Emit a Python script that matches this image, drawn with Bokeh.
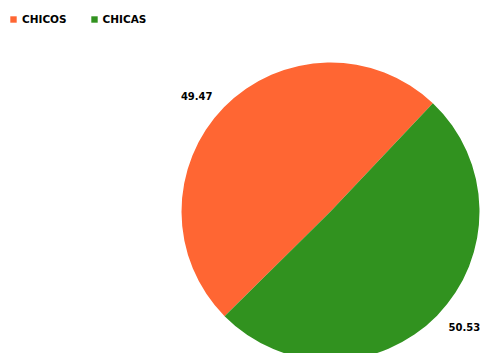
import numpy as np
from bokeh.plotting import figure
from bokeh.models import ColumnDataSource, Legend, LegendItem, Range1d
from bokeh.core.properties import value
from bokeh.embed import file_html
from bokeh.resources import INLINE

categories = ["CHICOS", "CHICAS"]
values = [49.47, 50.53]
labels = ["49.47", "50.53"]
colors = ["#FF6633", "#31921F"]

W, H = 481, 353
p = figure(width=W, height=H, output_backend="svg", toolbar_location=None,
           x_range=Range1d(0, W), y_range=Range1d(0, H), min_border=0)
p.axis.visible = False
p.grid.visible = False
p.outline_line_color = None

cx, cy, R = 330, 142, 149
start = np.deg2rad(46.6)
frac = np.array(values) / sum(values)
ends = start + 2 * np.pi * np.cumsum(frac)
starts = ends - 2 * np.pi * frac
mid = (starts + ends) / 2
lr = 165
lx = cx + lr * np.cos(mid)
ly = cy + lr * np.sin(mid)
align = ["right" if c < 0 else "left" for c in np.cos(mid)]

src = ColumnDataSource(dict(cat=categories, start=starts, end=ends, color=colors,
                            lx=lx, ly=ly, label=labels, align=align))

r = p.wedge(x=cx, y=cy, radius=R, radius_units="screen", start_angle="start",
            end_angle="end", direction="anticlock", fill_color="color",
            line_color=None, source=src)

p.text(x="lx", y="ly", text="label", text_align="align", text_baseline="middle",
       text_font=value("DejaVu Sans"), text_font_style="bold", text_font_size="10px",
       text_color="black", source=src)

items = [LegendItem(label=c, renderers=[r], index=i) for i, c in enumerate(categories)]
legend = Legend(items=items, orientation="horizontal", location=(9, 328),
                glyph_width=8, glyph_height=8, label_height=8, label_standoff=5,
                spacing=23, padding=0, margin=0, border_line_color=None,
                background_fill_alpha=0,
                label_text_font="DejaVu Sans", label_text_font_style="bold",
                label_text_font_size="10.5px", label_text_color="black",
                label_text_baseline="middle")
p.add_layout(legend, "center")

open("out.html", "w").write(file_html(p, INLINE))
